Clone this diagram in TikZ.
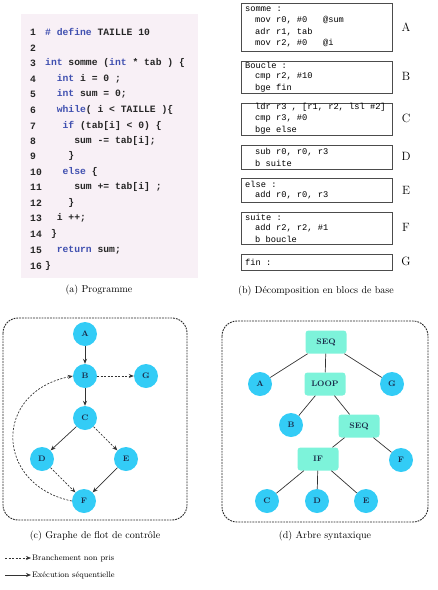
\documentclass[tikz,border=0pt]{standalone}
\usepackage{fontspec}
\setmonofont{Liberation Mono}
\usetikzlibrary{arrows.meta}
\definecolor{pinkbg}{HTML}{F8F0F6}
\definecolor{kw}{HTML}{4050B0}
\definecolor{cyanfill}{HTML}{33CCF6}
\definecolor{aquafill}{HTML}{7DF3DA}
\definecolor{lbl}{HTML}{1A2B4A}
\definecolor{edgec}{HTML}{333333}
\newcommand{\kwd}[1]{\textcolor{kw}{#1}}
\tikzset{
  codeline/.style={anchor=west, inner sep=0pt, font=\fontsize{9.7}{11}\selectfont\ttfamily\bfseries, text=black!85},
  lineno/.style={anchor=west, inner sep=0pt, font=\fontsize{9.7}{11}\selectfont\ttfamily\bfseries, text=black!85},
  asm/.style={anchor=west, inner sep=0pt, font=\fontsize{8.7}{10}\selectfont\ttfamily, text=black},
  blockbox/.style={draw=black!70, line width=0.8pt},
  blocklabel/.style={font=\large, inner sep=0pt},
  cnode/.style={circle, fill=cyanfill, minimum size=24pt, inner sep=0pt, font=\fontsize{8}{9}\selectfont\bfseries, text=lbl},
  rnode/.style={rectangle, rounded corners=3pt, fill=aquafill, minimum width=41pt, minimum height=23pt, inner sep=0pt, font=\fontsize{8}{9}\selectfont\bfseries, text=lbl},
  panel/.style={draw=black!85, line width=0.9pt, dash pattern=on 1.8pt off 1pt, rounded corners=15pt},
  seqarrow/.style={draw=edgec, line width=0.7pt, -{Stealth[length=5pt,width=4pt]}},
  brarrow/.style={draw=edgec, line width=0.7pt, dash pattern=on 2pt off 1.5pt, -{Stealth[length=5pt,width=4pt]}},
  treeedge/.style={draw=edgec, line width=0.7pt},
  caption/.style={font=\fontsize{10}{12}\selectfont, inner sep=0pt},
  legendtext/.style={anchor=west, font=\fontsize{8}{9}\selectfont, inner sep=0pt}
}
\begin{document}
\begin{tikzpicture}[x=1pt, y=-1pt]
\useasboundingbox (0,0) rectangle (438,590);
% ---------------- (a) Programme
\fill[pinkbg] (21,14) rectangle (198,278);
\foreach \n/\yy in {1/32,2/48,3/63,4/79,5/94,6/110,7/126,8/141,9/156,10/172,11/187,12/203,13/218,14/234,15/250,16/266}
  \node[lineno] (ln\n) at (30,\yy) {\n};
\def\cw{5.82}
\node[codeline] (c1) at (45,32) {\kwd{\#~define}~TAILLE~10};
\node[codeline] (c3) at (45,63) {\kwd{int}~somme~(\kwd{int}~*~tab~)~\{};
\node[codeline] (c4) at (45+2*\cw,79) {\kwd{int}~i~=~0~;};
\node[codeline] (c5) at (45+2*\cw,94) {\kwd{int}~sum~=~0;};
\node[codeline] (c6) at (45+2*\cw,110) {\kwd{while}(~i~<~TAILLE~)\{};
\node[codeline] (c7) at (45+3*\cw,126) {\kwd{if}~(tab[i]~<~0)~\{};
\node[codeline] (c8) at (45+5*\cw,141) {sum~-=~tab[i];};
\node[codeline] (c9) at (45+4*\cw,156) {\}};
\node[codeline] (c10) at (45+3*\cw,172) {\kwd{else}~\{};
\node[codeline] (c11) at (45+5*\cw,187) {sum~+=~tab[i]~;};
\node[codeline] (c12) at (45+4*\cw,203) {\}};
\node[codeline] (c13) at (45+2*\cw,218) {i~++;};
\node[codeline] (c14) at (45+1*\cw,234) {\}};
\node[codeline] (c15) at (45+2*\cw,250) {\kwd{return}~sum;};
\node[codeline] (c16) at (45,266) {\}};
\node[caption] (capa) at (99,290) {(a) Programme};
% ---------------- (b) Blocs de base
\draw[blockbox] (241,3) rectangle (392,51);
\draw[blockbox] (241,61) rectangle (392,93);
\draw[blockbox] (241,103) rectangle (392,135);
\draw[blockbox] (241,145) rectangle (392,169);
\draw[blockbox] (241,178) rectangle (392,202);
\draw[blockbox] (241,212) rectangle (392,244);
\draw[blockbox] (241,254) rectangle (392,270);
\node[asm] (a1) at (245,9) {somme~:};
\node[asm] (a2) at (255,20) {mov~r0,~\#0~~~@sum};
\node[asm] (a3) at (255,32) {adr~r1,~tab};
\node[asm] (a4) at (255,43) {mov~r2,~\#0~~~@i};
\node[asm] (b1) at (245,65) {Boucle~:};
\node[asm] (b2) at (255,76) {cmp~r2,~\#10};
\node[asm] (b3) at (255,88) {bge~fin};
\node[asm] (cc1) at (255,107) {ldr~r3~,~[r1,~r2,~lsl~\#2]};
\node[asm] (cc2) at (255,118) {cmp~r3,~\#0};
\node[asm] (cc3) at (255,130) {bge~else};
\node[asm] (d1) at (255,152) {sub~r0,~r0,~r3};
\node[asm] (d2) at (255,163) {b~suite};
\node[asm] (e1) at (245,184) {else~:};
\node[asm] (e2) at (255,195) {add~r0,~r0,~r3};
\node[asm] (f1) at (245,217) {suite~:};
\node[asm] (f2) at (255,228) {add~r2,~r2,~\#1};
\node[asm] (f3) at (255,239) {b~boucle};
\node[asm] (g1) at (245,262) {fin~:};
\node[blocklabel] (LA) at (406,27) {A};
\node[blocklabel] (LB) at (406,76) {B};
\node[blocklabel] (LC) at (406,118) {C};
\node[blocklabel] (LD) at (406,156) {D};
\node[blocklabel] (LE) at (406,190) {E};
\node[blocklabel] (LF) at (406,227) {F};
\node[blocklabel] (LG) at (406,261) {G};
\node[caption] (capb) at (316,291) {(b) Décomposition en blocs de base};
% ---------------- (c) Graphe de flot
\draw[panel] (3,318) rectangle (187,520);
\node[cnode] (A) at (85,334) {A};
\node[cnode] (B) at (85,376) {B};
\node[cnode] (G) at (146,376) {G};
\node[cnode] (C) at (85,418) {C};
\node[cnode] (D) at (42,459) {D};
\node[cnode] (E) at (126,459) {E};
\node[cnode] (F) at (84,501) {F};
\draw[seqarrow] (A) -- (B);
\draw[brarrow] (B) -- (G);
\draw[seqarrow] (B) -- (C);
\draw[seqarrow] (C.south west) -- (D.north east);
\draw[brarrow] (C.south east) -- (E.north west);
\draw[brarrow] (D.south east) -- (F.north west);
\draw[seqarrow] (E.south west) -- (F.north east);
\draw[brarrow] (F.west) .. controls (-5,485) and (-8,392) .. (B.west);
\node[caption] (capc) at (95,536) {(c) Graphe de flot de contrôle};
% ---------------- (d) Arbre syntaxique
\draw[panel] (222,321) rectangle (428,522);
\node[rnode] (S1) at (326,342) {SEQ};
\node[rnode] (L) at (325,384) {LOOP};
\node[rnode] (S2) at (359,426) {SEQ};
\node[rnode] (I) at (318,459) {IF};
\node[cnode] (tA) at (260,384) {A};
\node[cnode] (tG) at (392,384) {G};
\node[cnode] (tB) at (291,425) {B};
\node[cnode] (tF) at (401,460) {F};
\node[cnode] (tC) at (267,501) {C};
\node[cnode] (tD) at (317,501) {D};
\node[cnode] (tE) at (366,501) {E};
\draw[treeedge] (S1) -- (tA);
\draw[treeedge] (S1) -- (L);
\draw[treeedge] (S1) -- (tG);
\draw[treeedge] (L) -- (tB);
\draw[treeedge] (L) -- (S2);
\draw[treeedge] (S2) -- (I);
\draw[treeedge] (S2) -- (tF);
\draw[treeedge] (I) -- (tC);
\draw[treeedge] (I) -- (tD);
\draw[treeedge] (I) -- (tE);
\node[caption] (capd) at (325,536) {(d) Arbre syntaxique};
% ---------------- Legend
\coordinate (l1s) at (5,558);
\coordinate (l1e) at (31,558);
\coordinate (l2s) at (5,575);
\coordinate (l2e) at (31,575);
\draw[brarrow] (l1s) -- (l1e);
\draw[seqarrow] (l2s) -- (l2e);
\node[legendtext] (leg1) at (32,558) {Branchement non pris};
\node[legendtext] (leg2) at (32,575) {Exécution séquentielle};
\end{tikzpicture}
\end{document}
